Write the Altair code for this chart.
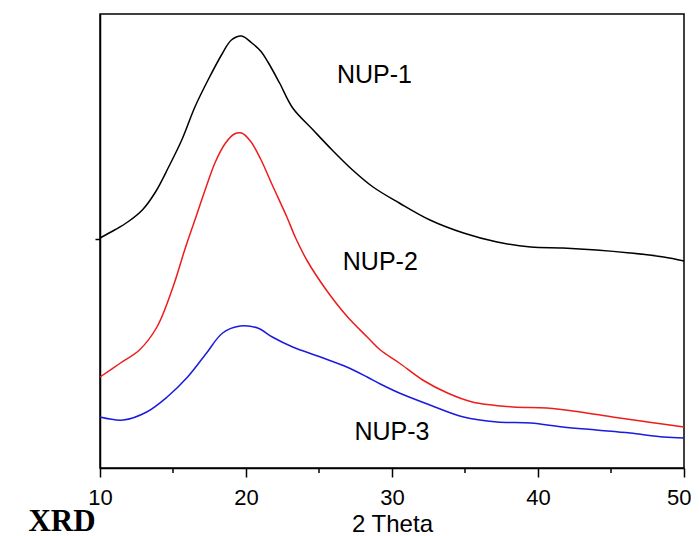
import altair as alt
import pandas as pd

# NUP-1 (black)
x1 = [10.0, 11.0, 11.9, 12.9, 13.8, 14.7, 15.6, 16.5, 17.4, 18.4, 19.0, 19.7, 20.4, 21.0,
      21.5, 22.3, 23.2, 24.6, 25.9, 27.3, 28.7, 30.5, 32.6, 34.9, 37.2, 39.5, 41.7, 44.0,
      46.3, 48.6, 50.0]
y1 = [230, 238, 246, 258, 276, 301, 328, 361, 388, 415, 428, 432, 425, 417,
      406, 385, 360, 338, 318, 298, 281, 265, 248, 235, 226, 221, 220, 218,
      215, 211, 207]
# NUP-2 (red)
x2 = [10.0, 11.4, 12.7, 13.9, 15.0, 15.8, 16.5, 17.2, 17.9, 18.6, 19.2, 19.7, 20.3, 21.0,
      21.8, 22.8, 23.4, 24.2, 25.5, 26.9, 28.3, 29.2, 30.5, 32.1, 33.8, 35.5, 38.3, 40.6,
      42.9, 45.1, 47.5, 50.0]
y2 = [91, 105, 118, 141, 181, 218, 248, 278, 306, 325, 334, 335, 327, 309,
      283, 251, 230, 207, 178, 152, 131, 118, 105, 88, 75, 66, 61, 60,
      56, 51, 46, 41]
# NUP-3 (blue)
x3 = [10.0, 11.6, 13.2, 14.6, 16.0, 17.3, 18.4, 19.6, 20.8, 21.8, 23.2, 25.1, 26.9, 28.3,
      29.2, 30.5, 32.6, 34.9, 37.2, 39.5, 41.7, 44.0, 46.3, 48.6, 50.0]
y3 = [51, 48, 56, 71, 91, 115, 135, 142, 140, 131, 121, 111, 101, 91,
      84, 75, 63, 51, 46, 45, 41, 38, 35, 31, 30]

series_names = ["NUP-1", "NUP-2", "NUP-3"]
series_colors = ["#000000", "#ee1c1c", "#1a1ae0"]
label_x = [28.8, 29.2, 30.0]
label_y = [393, 206, 36]
minor_ticks = [15, 25, 35, 45]

rows = []
for name, xs, ys in zip(series_names, [x1, x2, x3], [y1, y2, y3]):
    for a, b in zip(xs, ys):
        rows.append({"theta": a, "intensity": b, "sample": name})
df = pd.DataFrame(rows)
labels = pd.DataFrame({"sample": series_names, "x": label_x, "y": label_y})
minor = pd.DataFrame({"x": minor_ticks})

xscale = alt.Scale(domain=[10, 50], nice=False)
yscale = alt.Scale(domain=[0, 454], nice=False, zero=False)

lines = alt.Chart(df).mark_line(strokeWidth=1.5, interpolate="catmull-rom").encode(
    x=alt.X("theta:Q", scale=xscale,
            axis=alt.Axis(title="2 Theta", values=[10, 20, 30, 40, 50], format="d",
                          grid=False, domainColor="black", domainWidth=1.5,
                          tickColor="black", tickWidth=1.5, tickSize=9,
                          labelFont="Liberation Sans", labelFontSize=22, labelColor="black",
                          labelPadding=10, labelFlush=False,
                          labelAlign={"condition": {"test": "datum.value == 50", "value": "right"},
                                      "value": "center"},
                          labelOffset={"condition": {"test": "datum.value == 50", "value": 7},
                                       "value": 0},
                          titleFont="Liberation Sans", titleFontSize=24, titleFontWeight="normal",
                          titleColor="black", titlePadding=4)),
    y=alt.Y("intensity:Q", scale=yscale,
            axis=alt.Axis(title=None, values=[229], labels=False, grid=False,
                          domainColor="black", domainWidth=1.5,
                          tickColor="black", tickWidth=1.5, tickSize=5)),
    color=alt.Color("sample:N", scale=alt.Scale(domain=series_names, range=series_colors),
                    legend=None),
    detail="sample:N",
)

minor_rules = alt.Chart(minor).mark_rule(color="black", strokeWidth=1.5).encode(
    x=alt.X("x:Q", scale=xscale),
    y=alt.value(454),
    y2=alt.value(459),
)

text = alt.Chart(labels).mark_text(font="Liberation Sans", fontSize=25, color="black").encode(
    x=alt.X("x:Q", scale=xscale),
    y=alt.Y("y:Q", scale=yscale),
    text="sample:N",
)

xrd = alt.Chart(pd.DataFrame({"t": ["XRD"]})).mark_text(
    font="Liberation Serif", fontSize=31, fontWeight="bold", color="black",
    baseline="alphabetic", align="center"
).encode(x=alt.value(-38), y=alt.value(517), text="t:N")

chart = alt.layer(lines, minor_rules, text, xrd).properties(
    width=584, height=454,
    padding={"left": 92, "top": 6, "right": 7, "bottom": 68},
    autosize="none",
).configure_view(stroke="black", strokeWidth=1.5)

chart.save("out.html", embed_options={"renderer": "svg", "actions": False})
